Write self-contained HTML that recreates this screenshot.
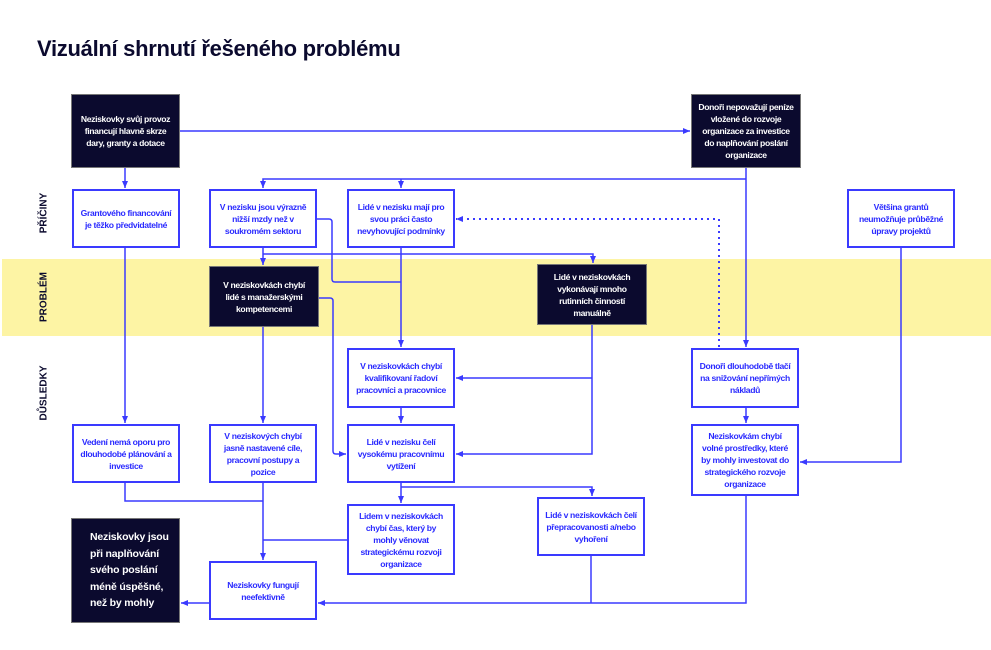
<!DOCTYPE html>
<html><head><meta charset="utf-8">
<style>
body{margin:0;width:991px;height:650px;background:#fff;position:relative;overflow:hidden;font-family:"Liberation Sans","DejaVu Sans",sans-serif;}
.band{position:absolute;left:2px;top:259px;width:989px;height:77px;background:#fdf4a4;}
h1{position:absolute;left:37px;top:36px;margin:0;font-size:22px;font-weight:bold;color:#0b0a2e;letter-spacing:-0.3px;}
.b{position:absolute;box-sizing:border-box;border:2px solid #3a3aff;background:#fff;color:#2a2aff;display:flex;align-items:center;justify-content:center;text-align:center;font-size:8.6px;font-weight:bold;line-height:12px;letter-spacing:-0.35px;padding:0 6px;}
.d{background:#0b0a2e;color:#fff;border:1px solid #777;}
.v{position:absolute;font-size:10px;font-weight:bold;color:#0b0a2e;transform:translate(-50%,-50%) rotate(-90deg);white-space:nowrap;}
svg{position:absolute;left:0;top:0;}
</style></head><body>
<div class="band"></div>
<h1>Vizuální shrnutí řešeného problému</h1>
<div class="v" style="left:44px;top:213px">PŘÍČINY</div>
<div class="v" style="left:44px;top:297px">PROBLÉM</div>
<div class="v" style="left:44px;top:393px">DŮSLEDKY</div>
<svg width="991" height="650" viewBox="0 0 991 650">
<defs><marker id="a" markerWidth="8" markerHeight="8" refX="7" refY="4" orient="auto" markerUnits="userSpaceOnUse"><path d="M0,1 L7,4 L0,7z" fill="#3a3aff"/></marker></defs>
<g stroke="#3a3aff" stroke-width="1.5" fill="none">
<path d="M180,131 H690" marker-end="url(#a)"/>
<path d="M125,168 V188" marker-end="url(#a)"/>
<path d="M746,168 V347" marker-end="url(#a)"/>
<path d="M746,179 H263 V188" marker-end="url(#a)"/>
<path d="M401,179 V188" marker-end="url(#a)"/>
<path d="M263,248 V265" marker-end="url(#a)"/>
<path d="M263,254 H593 V263" marker-end="url(#a)"/>
<path d="M317,219 H329 Q332,219 332,222 V279 Q332,282 335,282 H401"/>
<path d="M401,248 V347" marker-end="url(#a)"/>
<path d="M319,298 H330 Q333,298 333,301 V451 Q333,454 336,454 H346" marker-end="url(#a)"/>
<path d="M263,327 V423" marker-end="url(#a)"/>
<path d="M125,248 V423" marker-end="url(#a)"/>
<path d="M592,325 V454 H456" marker-end="url(#a)"/>
<path d="M592,378 H456" marker-end="url(#a)"/>
<path d="M401,408 V423" marker-end="url(#a)"/>
<path d="M401,483 V503" marker-end="url(#a)"/>
<path d="M401,487 H592 V496" marker-end="url(#a)"/>
<path d="M125,483 V501 H263"/>
<path d="M263,483 V560" marker-end="url(#a)"/>
<path d="M347,540 H263"/>
<path d="M591,556 V603"/>
<path d="M746,496 V603 H318" marker-end="url(#a)"/>
<path d="M209,603 H181" marker-end="url(#a)"/>
<path d="M746,408 V423" marker-end="url(#a)"/>
<path d="M901,248 V462 H800" marker-end="url(#a)"/>
<path d="M719,347 V219 H456" stroke-dasharray="2,4" stroke-width="2" marker-end="url(#a)"/>
</g></svg>
<div class="b d" style="left:71px;top:94px;width:109px;height:74px">Neziskovky svůj provoz financují hlavně skrze dary, granty a dotace</div>
<div class="b d" style="left:691px;top:94px;width:110px;height:74px">Donoři nepovažují peníze vložené do rozvoje organizace za investice do naplňování poslání organizace</div>
<div class="b" style="left:72px;top:189px;width:108px;height:59px">Grantového financování je těžko předvidatelné</div>
<div class="b" style="left:209px;top:189px;width:108px;height:59px">V nezisku jsou výrazně nižší mzdy než v soukromém sektoru</div>
<div class="b" style="left:347px;top:189px;width:108px;height:59px">Lidé v nezisku mají pro svou práci často nevyhovující podmínky</div>
<div class="b" style="left:847px;top:189px;width:108px;height:59px">Většina grantů neumožňuje průběžné úpravy projektů</div>
<div class="b d" style="left:209px;top:266px;width:110px;height:61px">V neziskovkách chybí lidé s manažerskými kompetencemi</div>
<div class="b d" style="left:537px;top:264px;width:110px;height:61px">Lidé v neziskovkách vykonávají mnoho rutinních činností manuálně</div>
<div class="b" style="left:347px;top:348px;width:108px;height:60px">V neziskovkách chybí kvalifikovaní řadoví pracovníci a pracovnice</div>
<div class="b" style="left:691px;top:348px;width:108px;height:60px">Donoři dlouhodobě tlačí na snižování nepřímých nákladů</div>
<div class="b" style="left:72px;top:424px;width:108px;height:59px">Vedení nemá oporu pro dlouhodobé plánování a investice</div>
<div class="b" style="left:209px;top:424px;width:108px;height:59px">V neziskových chybí jasně nastavené cíle, pracovní postupy a pozice</div>
<div class="b" style="left:347px;top:424px;width:108px;height:59px">Lidé v nezisku čelí vysokému pracovnímu vytížení</div>
<div class="b" style="left:691px;top:424px;width:108px;height:72px">Neziskovkám chybí volné prostředky, které by mohly investovat do strategického rozvoje organizace</div>
<div class="b" style="left:537px;top:497px;width:108px;height:59px">Lidé v neziskovkách čelí přepracovanosti a/nebo vyhoření</div>
<div class="b" style="left:347px;top:504px;width:108px;height:71px">Lidem v neziskovkách chybí čas, který by mohly věnovat strategickému rozvoji organizace</div>
<div class="b" style="left:209px;top:561px;width:108px;height:59px">Neziskovky fungují neefektivně</div>
<div class="b d" style="left:71px;top:518px;width:109px;height:105px;justify-content:flex-start;text-align:left;padding-left:18px;font-size:10.5px;line-height:16.5px;letter-spacing:-0.2px">Neziskovky jsou<br>při naplňování<br>svého poslání<br>méně úspěšné,<br>než by mohly</div>
</body></html>
